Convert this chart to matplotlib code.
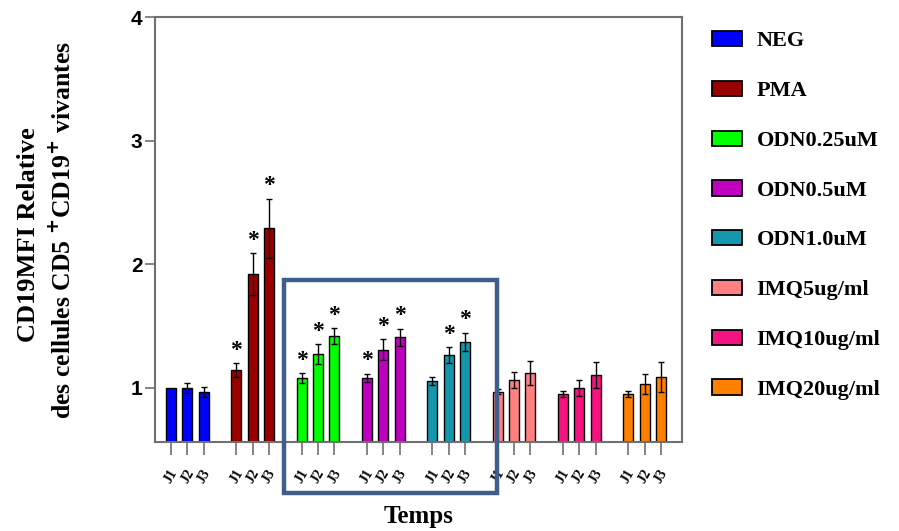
import numpy as np
import matplotlib
matplotlib.use("Agg")
from matplotlib import pyplot as plt
from matplotlib.patches import Rectangle

# Conditions and days
conditions = ['NEG', 'PMA', 'ODN0.25uM', 'ODN0.5uM', 'ODN1.0uM',
              'IMQ5ug/ml', 'IMQ10ug/ml', 'IMQ20ug/ml']
days = ['J1', 'J2', 'J3']
colors = ['#0000FF', '#990000', '#00FF00', '#C000C0', '#1497AD',
          '#FF8080', '#F5147F', '#FF8000']

# Mean values (J1, J2, J3) per condition
means = [
    [1.00, 1.00, 0.97],
    [1.145, 1.92, 2.29],
    [1.08, 1.275, 1.42],
    [1.08, 1.31, 1.41],
    [1.055, 1.265, 1.37],
    [0.97, 1.065, 1.12],
    [0.95, 1.00, 1.105],
    [0.95, 1.03, 1.09],
]
errors = [
    [0.0, 0.04, 0.04],
    [0.055, 0.17, 0.24],
    [0.04, 0.08, 0.065],
    [0.035, 0.085, 0.07],
    [0.035, 0.065, 0.075],
    [0.02, 0.065, 0.10],
    [0.025, 0.065, 0.105],
    [0.025, 0.08, 0.12],
]
# significance markers
signif = [
    [0, 0, 0],
    [1, 1, 1],
    [1, 1, 1],
    [1, 1, 1],
    [0, 1, 1],
    [0, 0, 0],
    [0, 0, 0],
    [0, 0, 0],
]

serif = 'Liberation Serif'
spine_col = '#707070'

fig = plt.figure(figsize=(8.99, 5.31), dpi=100)
ax = fig.add_axes([155/899, 1 - 442/531, (682-155)/899, (442-17)/531])

handles = []
positions = []
labels = []
for g in range(len(conditions)):
    x = 4 * g + np.arange(3)
    b = ax.bar(x, means[g], 0.62, bottom=0, color=colors[g], edgecolor='black',
               linewidth=1.0, zorder=2)
    handles.append(b[0])
    for j in range(3):
        positions.append(x[j])
        labels.append(days[j])
        if errors[g][j] > 0:
            ax.errorbar(x[j], means[g][j], yerr=errors[g][j], fmt='none',
                        ecolor='black', elinewidth=1.0, capsize=2, capthick=1.0,
                        zorder=3)
        if signif[g][j]:
            ax.text(x[j], means[g][j] + errors[g][j] + 0.02, '*', ha='center',
                    va='bottom', fontsize=17, fontweight='bold', family=serif)

ax.set_xlim(-0.98, 31.29)
ax.set_ylim(0.563, 4)
ax.set_yticks([1, 2, 3, 4])
ax.set_yticklabels(['1', '2', '3', '4'], fontsize=15, fontweight='bold',
                   family='Liberation Sans')
ax.set_xticks(positions)
ax.set_xticklabels(labels, rotation=60, fontsize=10, fontweight='bold',
                   family=serif, ha='center', va='top')
ax.tick_params(axis='x', length=9, width=1.2, color=spine_col, pad=9)
ax.tick_params(axis='y', length=7, width=1.2, color=spine_col, pad=2)
for s in ax.spines.values():
    s.set_color(spine_col)
    s.set_linewidth(1.5)

ax.set_xlabel('Temps', fontsize=18, fontweight='bold', family=serif, labelpad=14)

fig.text(29/899, 1 - 235/531, 'CD19MFI Relative', rotation=90, ha='center',
         va='center', fontsize=19, fontweight='bold', family=serif)
fig.text(63/899, 1 - 230/531,
         r'des cellules CD5 $^{\mathbf{+}}$CD19$^{\mathbf{+}}$ vivantes',
         rotation=90, ha='center', va='center', fontsize=18.5, fontweight='bold',
         family=serif)

# highlight box around the ODN groups
fig.patches.append(Rectangle((284/899, 1 - 493/531), (497-284)/899, (493-280)/531,
                             transform=fig.transFigure, fill=False,
                             edgecolor='#3F5E8C', linewidth=3.2, zorder=10))

leg = fig.legend(handles, conditions, loc='upper left',
                 bbox_to_anchor=(712/899, 1 - 31/531),
                 frameon=False, prop={'family': serif, 'weight': 'bold', 'size': 16},
                 handlelength=1.35, handleheight=0.68, handletextpad=0.65,
                 labelspacing=1.32, borderaxespad=0, borderpad=0)
for h in leg.legend_handles:
    h.set_linewidth(1.3)

plt.savefig('out.png', dpi=100)
